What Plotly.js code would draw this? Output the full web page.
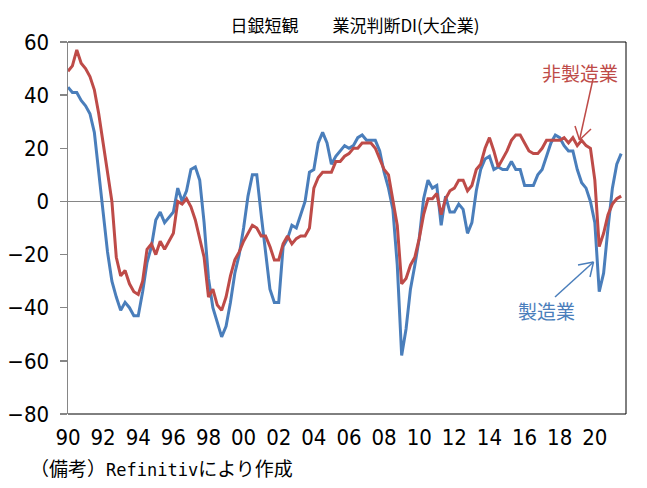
<!DOCTYPE html>
<html>
<head>
<meta charset="utf-8">
<script src="https://cdn.plot.ly/plotly-3.0.1.min.js"></script>
<style>
  html, body { margin: 0; padding: 0; background: #ffffff; }
  #chart { width: 647px; height: 488px; }
</style>
</head>
<body>
<div id="chart"></div>
<script>
// Tankan business conditions DI, large enterprises, quarterly from 1990 Q1
const startYear = 1990;

// Manufacturing (製造業)
const manufacturing = [
  43, 41, 41, 38,   36, 33, 26, 12,   -4, -19, -30, -36,
  -41, -38, -40, -43,   -43, -34, -23, -17,   -7, -4, -8, -6,
  -4, 5, 0, 4,   12, 13, 8, -8,   -29, -40, -46, -51,
  -47, -38, -27, -20,   -10, 2, 10, 10,   -5, -20, -33, -38,
  -38, -17, -14, -9,   -10, -5, 0, 11,   12, 22, 26, 22,
  14, 17, 19, 21,   20, 21, 24, 25,   23, 23, 23, 19,
  11, 5, -3, -24,   -58, -48, -33, -24,   -14, 1, 8, 5,
  6, -9, 2, -4,   -4, -1, -3, -12,   -8, 4, 12, 16,
  17, 12, 13, 12,   12, 15, 12, 12,   6, 6, 6, 10,
  12, 17, 22, 25,   24, 21, 19, 19,   12, 7, 5, 0,
  -8, -34, -27, -10,   5, 14, 18
];

// Non-manufacturing (非製造業)
const nonManufacturing = [
  49, 51, 57, 52,   50, 47, 42, 33,   22, 11, 0, -21,
  -28, -26, -31, -34,   -35, -30, -18, -16,   -20, -15, -18, -15,
  -12, 0, -1, 1,   -2, -7, -14, -21,   -36, -33, -39, -41,
  -36, -28, -22, -19,   -15, -12, -9, -10,   -13, -13, -17, -22,
  -22, -16, -13, -16,   -14, -13, -13, -10,   5, 9, 11, 11,
  11, 15, 15, 17,   18, 20, 20, 22,   22, 22, 20, 16,
  12, 10, 1, -9,   -31, -29, -24, -21,   -14, -5, 1, 1,
  3, -5, 1, 4,   5, 8, 8, 4,   6, 12, 14, 20,
  24, 19, 13, 16,   19, 23, 25, 25,   22, 19, 18, 18,
  20, 23, 23, 23,   23, 24, 22, 24,   21, 23, 21, 20,
  8, -17, -12, -5,   -1, 1, 2
];

// Axis ticks
const tickYears = [1990, 1992, 1994, 1996, 1998, 2000, 2002, 2004, 2006, 2008, 2010, 2012, 2014, 2016, 2018, 2020];
const tickLabels = ['90', '92', '94', '96', '98', '00', '02', '04', '06', '08', '10', '12', '14', '16', '18', '20'];
const yTicks = [-80, -60, -40, -20, 0, 20, 40, 60];

const quarterX = arr => arr.map((_, i) => startYear + i / 4);

const BLUE = '#4A7EBB';
const RED = '#BE4B48';
const JP = '"Noto Sans CJK JP", "Noto Sans", sans-serif';
const NUM = '"Liberation Sans Narrow", "DejaVu Sans Condensed", "Noto Sans CJK JP", sans-serif';
const MONO = "'DejaVu Sans Mono', 'Liberation Mono', monospace";

// plot-area geometry (pixels) used for callout arrows
const W = 647, H = 488;
const M = { l: 68, r: 21, t: 42, b: 74 };
const PW = W - M.l - M.r, PH = H - M.t - M.b;
const px = x => (x - M.l) / PW;
const py = y => (H - M.b - y) / PH;

function arrowShapes(tail, tip, wingA, wingB, color) {
  const line = { color: color, width: 1.5 };
  const seg = (a, b) => ({
    type: 'line', xref: 'paper', yref: 'paper',
    x0: px(a[0]), y0: py(a[1]), x1: px(b[0]), y1: py(b[1]), line: line
  });
  return [seg(tail, tip), seg(wingA, tip), seg(wingB, tip)];
}

const traces = [
  {
    x: quarterX(manufacturing), y: manufacturing, name: '製造業',
    type: 'scatter', mode: 'lines',
    line: { color: BLUE, width: 3 }
  },
  {
    x: quarterX(nonManufacturing), y: nonManufacturing, name: '非製造業',
    type: 'scatter', mode: 'lines',
    line: { color: RED, width: 3 }
  }
];

const layout = {
  width: W, height: H,
  margin: M,
  paper_bgcolor: '#ffffff', plot_bgcolor: '#ffffff',
  showlegend: false,
  title: {
    text: '日銀短観　　業況判断DI(大企業)',
    font: { family: JP, size: 17, color: '#000000' },
    xref: 'container', yref: 'container',
    x: 355 / W, y: 1 - 26 / H, xanchor: 'center', yanchor: 'middle'
  },
  xaxis: {
    range: [startYear, startYear + 127.1 / 4],
    tickmode: 'array', tickvals: tickYears, ticktext: tickLabels,
    ticks: '', showgrid: false, zeroline: false,
    showline: false,
    tickfont: { family: NUM, size: 22, color: '#000000' },
    ticklabelstandoff: 8,
    fixedrange: true
  },
  yaxis: {
    range: [-80, 60],
    tickmode: 'array', tickvals: yTicks,
    ticks: 'outside', ticklen: 7, tickwidth: 1.5, tickcolor: '#868686',
    showgrid: false,
    zeroline: true, zerolinecolor: '#868686', zerolinewidth: 1.5,
    showline: true, linecolor: '#868686', linewidth: 1.5,
    tickfont: { family: NUM, size: 22, color: '#000000' },
    ticklabelstandoff: 6,
    fixedrange: true
  },
  shapes: [
    { type: 'line', xref: 'paper', yref: 'paper', x0: 0, x1: 1, y0: 1, y1: 1,
      line: { color: '#000000', width: 1 }, layer: 'below' },
    { type: 'line', xref: 'paper', yref: 'paper', x0: 1, x1: 1, y0: 0, y1: 1,
      line: { color: '#000000', width: 1 }, layer: 'below' },
    { type: 'line', xref: 'paper', yref: 'paper', x0: 0, x1: 1, y0: 0, y1: 0,
      line: { color: '#000000', width: 1 }, layer: 'below' }
  ]
    .concat(arrowShapes([593, 79], [579.5, 140], [575, 126], [591, 129], RED))
    .concat(arrowShapes([555, 297], [593.5, 262], [578, 265], [590, 277], BLUE)),
  annotations: [
    {
      text: '非製造業', xref: 'paper', yref: 'paper',
      x: px(580), y: py(72), xanchor: 'center', yanchor: 'middle',
      showarrow: false, font: { family: JP, size: 19, color: RED }
    },
    {
      text: '製造業', xref: 'paper', yref: 'paper',
      x: px(546), y: py(310), xanchor: 'center', yanchor: 'middle',
      showarrow: false, font: { family: JP, size: 19, color: BLUE }
    },
    {
      text: '（備考）<span style="font-family:' + MONO + ';font-size:17px">Refinitiv</span>により作成',
      xref: 'paper', yref: 'paper',
      x: px(28), y: py(467), xanchor: 'left', yanchor: 'middle',
      showarrow: false, font: { family: JP, size: 19, color: '#000000' }
    }
  ]
};

Plotly.newPlot('chart', traces, layout, { displayModeBar: false, staticPlot: true });
</script>
</body>
</html>
